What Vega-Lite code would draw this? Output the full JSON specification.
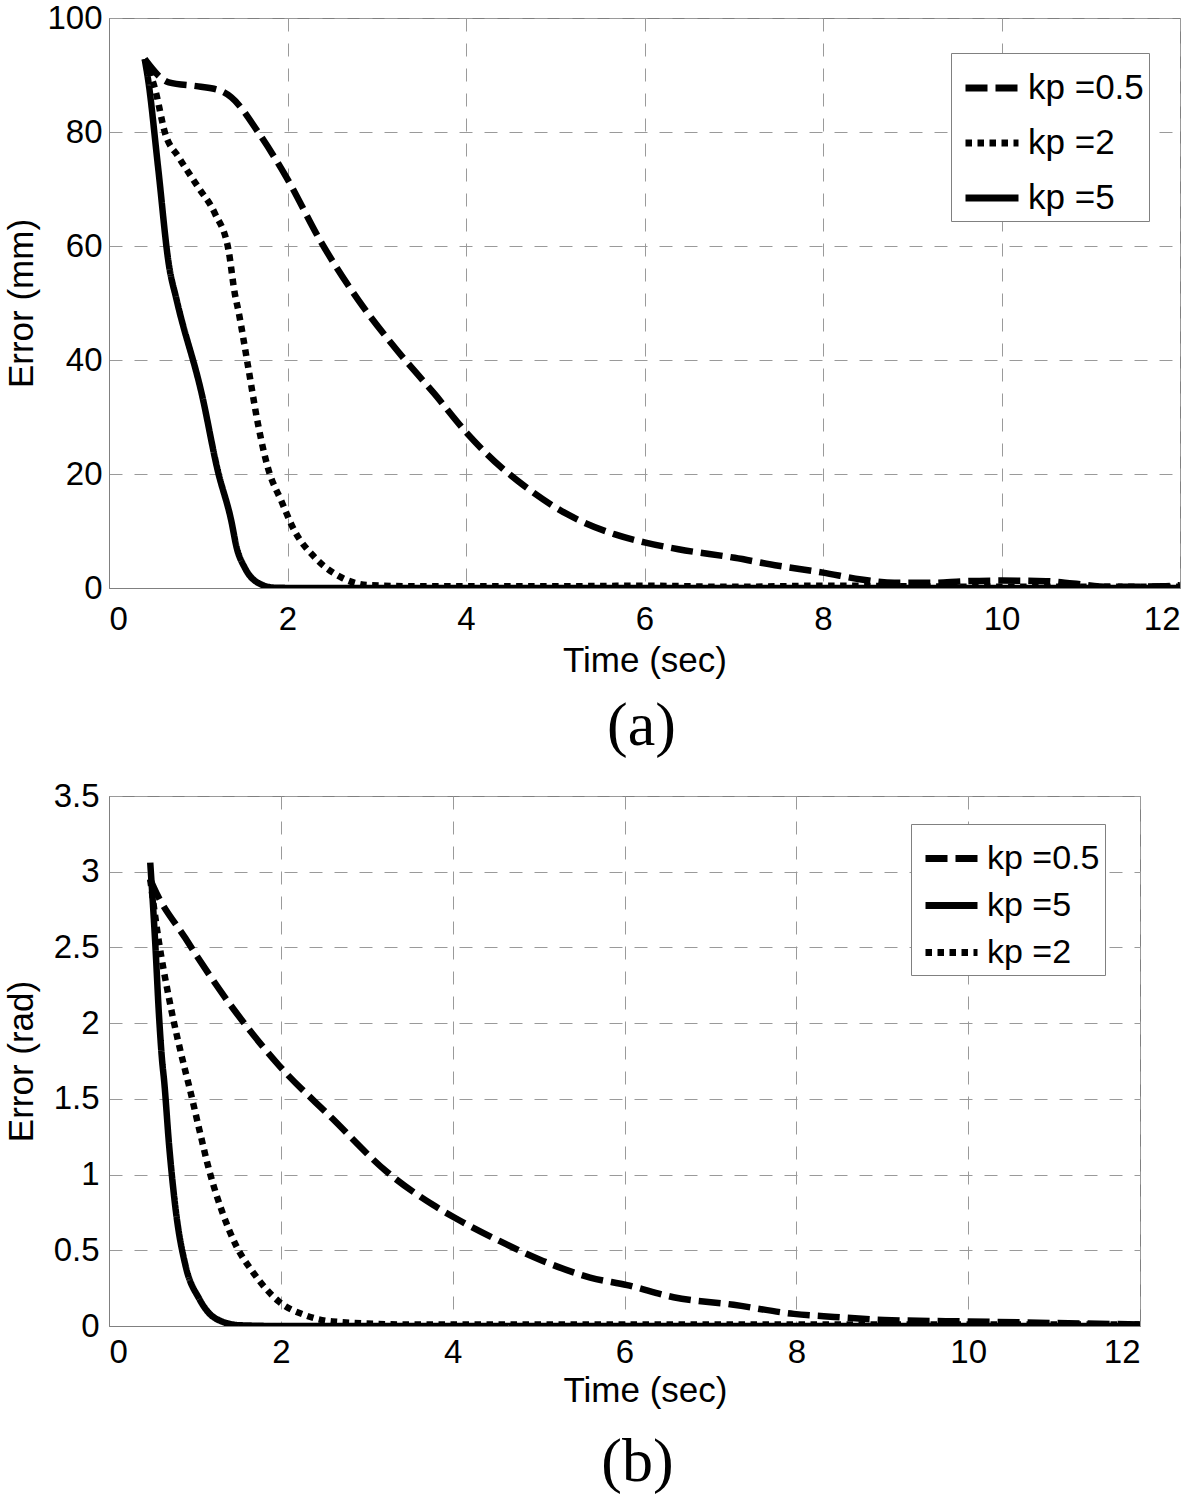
{
  "$schema": "https://vega.github.io/schema/vega-lite/v6.json",
  "background": "white",
  "padding": {"left": 3, "top": 1, "right": 0, "bottom": 0},
  "spacing": 21,
  "datasets": {
    "a": [
      {"t": 0.40, "e": 92.8, "s": "kp =0.5"}, {"t": 0.67, "e": 88.7, "s": "kp =0.5"}, {"t": 1.0, "e": 88.0, "s": "kp =0.5"}, {"t": 1.24, "e": 87.3, "s": "kp =0.5"}, {"t": 1.37, "e": 86.1, "s": "kp =0.5"}, {"t": 1.67, "e": 80.0, "s": "kp =0.5"}, {"t": 1.99, "e": 72.0, "s": "kp =0.5"}, {"t": 2.38, "e": 60.6, "s": "kp =0.5"}, {"t": 2.79, "e": 50.6, "s": "kp =0.5"}, {"t": 3.17, "e": 42.8, "s": "kp =0.5"}, {"t": 3.65, "e": 34.0, "s": "kp =0.5"}, {"t": 4.02, "e": 27.0, "s": "kp =0.5"}, {"t": 4.4, "e": 21.1, "s": "kp =0.5"}, {"t": 4.58, "e": 18.8, "s": "kp =0.5"}, {"t": 5.14, "e": 12.9, "s": "kp =0.5"}, {"t": 5.67, "e": 9.4, "s": "kp =0.5"}, {"t": 6.0, "e": 8.0, "s": "kp =0.5"}, {"t": 6.38, "e": 6.8, "s": "kp =0.5"}, {"t": 7.01, "e": 5.3, "s": "kp =0.5"}, {"t": 7.5, "e": 3.9, "s": "kp =0.5"}, {"t": 8.0, "e": 2.7, "s": "kp =0.5"}, {"t": 8.43, "e": 1.5, "s": "kp =0.5"}, {"t": 8.8, "e": 0.9, "s": "kp =0.5"}, {"t": 9.2, "e": 0.9, "s": "kp =0.5"}, {"t": 9.6, "e": 1.2, "s": "kp =0.5"}, {"t": 10.0, "e": 1.3, "s": "kp =0.5"}, {"t": 10.5, "e": 1.2, "s": "kp =0.5"}, {"t": 10.8, "e": 0.8, "s": "kp =0.5"}, {"t": 11.2, "e": 0.2, "s": "kp =0.5"}, {"t": 11.8, "e": 0.3, "s": "kp =0.5"}, {"t": 12.0, "e": 0.5, "s": "kp =0.5"},
      {"t": 0.40, "e": 92.8, "s": "kp =2"}, {"t": 0.52, "e": 87.3, "s": "kp =2"}, {"t": 0.63, "e": 79.7, "s": "kp =2"}, {"t": 0.78, "e": 75.6, "s": "kp =2"}, {"t": 1.0, "e": 70.3, "s": "kp =2"}, {"t": 1.19, "e": 65.6, "s": "kp =2"}, {"t": 1.34, "e": 59.2, "s": "kp =2"}, {"t": 1.41, "e": 51.6, "s": "kp =2"}, {"t": 1.45, "e": 48.6, "s": "kp =2"}, {"t": 1.56, "e": 38.7, "s": "kp =2"}, {"t": 1.67, "e": 28.7, "s": "kp =2"}, {"t": 1.78, "e": 21.1, "s": "kp =2"}, {"t": 1.93, "e": 15.3, "s": "kp =2"}, {"t": 2.08, "e": 10.0, "s": "kp =2"}, {"t": 2.31, "e": 5.3, "s": "kp =2"}, {"t": 2.61, "e": 1.8, "s": "kp =2"}, {"t": 2.9, "e": 0.5, "s": "kp =2"}, {"t": 3.5, "e": 0.3, "s": "kp =2"}, {"t": 5.0, "e": 0.3, "s": "kp =2"}, {"t": 6.0, "e": 0.4, "s": "kp =2"}, {"t": 7.0, "e": 0.2, "s": "kp =2"}, {"t": 8.0, "e": 0.4, "s": "kp =2"}, {"t": 9.0, "e": 0.3, "s": "kp =2"}, {"t": 10.0, "e": 0.2, "s": "kp =2"}, {"t": 12.0, "e": 0.2, "s": "kp =2"},
      {"t": 0.40, "e": 92.8, "s": "kp =5"}, {"t": 0.44, "e": 89.0, "s": "kp =5"}, {"t": 0.55, "e": 73.8, "s": "kp =5"}, {"t": 0.67, "e": 56.8, "s": "kp =5"}, {"t": 0.76, "e": 50.4, "s": "kp =5"}, {"t": 1.04, "e": 34.0, "s": "kp =5"}, {"t": 1.22, "e": 20.5, "s": "kp =5"}, {"t": 1.37, "e": 11.8, "s": "kp =5"}, {"t": 1.43, "e": 7.1, "s": "kp =5"}, {"t": 1.52, "e": 3.6, "s": "kp =5"}, {"t": 1.67, "e": 0.9, "s": "kp =5"}, {"t": 1.86, "e": 0.05, "s": "kp =5"}, {"t": 2.2, "e": 0.0, "s": "kp =5"}, {"t": 12.0, "e": 0.0, "s": "kp =5"}
    ],
    "b": [
      {"t": 0.48, "e": 2.95, "s": "kp =0.5"}, {"t": 0.51, "e": 2.91, "s": "kp =0.5"}, {"t": 0.89, "e": 2.56, "s": "kp =0.5"}, {"t": 1.44, "e": 2.10, "s": "kp =0.5"}, {"t": 1.98, "e": 1.72, "s": "kp =0.5"}, {"t": 2.6, "e": 1.37, "s": "kp =0.5"}, {"t": 3.23, "e": 1.02, "s": "kp =0.5"}, {"t": 3.77, "e": 0.80, "s": "kp =0.5"}, {"t": 4.04, "e": 0.71, "s": "kp =0.5"}, {"t": 4.55, "e": 0.56, "s": "kp =0.5"}, {"t": 5.05, "e": 0.43, "s": "kp =0.5"}, {"t": 5.6, "e": 0.32, "s": "kp =0.5"}, {"t": 6.03, "e": 0.27, "s": "kp =0.5"}, {"t": 6.57, "e": 0.19, "s": "kp =0.5"}, {"t": 7.27, "e": 0.14, "s": "kp =0.5"}, {"t": 7.97, "e": 0.08, "s": "kp =0.5"}, {"t": 8.44, "e": 0.06, "s": "kp =0.5"}, {"t": 9.02, "e": 0.04, "s": "kp =0.5"}, {"t": 10.0, "e": 0.03, "s": "kp =0.5"}, {"t": 11.0, "e": 0.02, "s": "kp =0.5"}, {"t": 12.0, "e": 0.01, "s": "kp =0.5"},
      {"t": 0.48, "e": 3.06, "s": "kp =5"}, {"t": 0.54, "e": 2.51, "s": "kp =5"}, {"t": 0.58, "e": 2.07, "s": "kp =5"}, {"t": 0.62, "e": 1.74, "s": "kp =5"}, {"t": 0.64, "e": 1.63, "s": "kp =5"}, {"t": 0.70, "e": 1.19, "s": "kp =5"}, {"t": 0.78, "e": 0.75, "s": "kp =5"}, {"t": 0.89, "e": 0.40, "s": "kp =5"}, {"t": 1.05, "e": 0.18, "s": "kp =5"}, {"t": 1.24, "e": 0.05, "s": "kp =5"}, {"t": 1.52, "e": 0.005, "s": "kp =5"}, {"t": 2.0, "e": 0.0, "s": "kp =5"}, {"t": 12.0, "e": 0.0, "s": "kp =5"},
      {"t": 0.48, "e": 2.95, "s": "kp =2"}, {"t": 0.58, "e": 2.54, "s": "kp =2"}, {"t": 0.70, "e": 2.16, "s": "kp =2"}, {"t": 0.89, "e": 1.68, "s": "kp =2"}, {"t": 0.93, "e": 1.59, "s": "kp =2"}, {"t": 1.05, "e": 1.30, "s": "kp =2"}, {"t": 1.17, "e": 1.02, "s": "kp =2"}, {"t": 1.32, "e": 0.75, "s": "kp =2"}, {"t": 1.48, "e": 0.53, "s": "kp =2"}, {"t": 1.67, "e": 0.36, "s": "kp =2"}, {"t": 1.98, "e": 0.16, "s": "kp =2"}, {"t": 2.29, "e": 0.07, "s": "kp =2"}, {"t": 2.6, "e": 0.03, "s": "kp =2"}, {"t": 3.5, "e": 0.01, "s": "kp =2"}, {"t": 12.0, "e": 0.01, "s": "kp =2"}
    ]
  },
  "vconcat": [
    {
      "width": 1071,
      "height": 570,
      "data": {"name": "a"},
      "title": {"text": "(a)", "orient": "bottom", "anchor": "middle", "font": "Liberation Serif", "fontSize": 62, "fontWeight": "normal", "color": "black", "offset": 18, "dx": -3},
      "mark": {"type": "line", "color": "black", "strokeWidth": 6.5, "interpolate": "monotone", "clip": true},
      "encoding": {
        "x": {"field": "t", "type": "quantitative", "title": "Time (sec)", "scale": {"domain": [0, 12], "nice": false}, "axis": {"values": [0, 2, 4, 6, 8, 10, 12], "format": "d", "labelPadding": 15, "titlePadding": 7}},
        "y": {"field": "e", "type": "quantitative", "title": "Error (mm)", "scale": {"domain": [0, 100], "nice": false}, "axis": {"values": [0, 20, 40, 60, 80, 100], "format": "d", "labelPadding": 7, "titlePadding": 7}},
        "strokeDash": {"field": "s", "type": "nominal", "scale": {"domain": ["kp =0.5", "kp =2", "kp =5"], "range": [[22, 8], [6.5, 5.5], [1, 0]]},
          "legend": {"title": null, "orient": "none", "legendX": 842, "legendY": 35, "strokeColor": "#808080", "fillColor": "white", "padding": 5, "rowPadding": 7, "symbolOffset": 6, "symbolType": "stroke", "symbolSize": 2809, "symbolStrokeWidth": 7, "symbolStrokeColor": "black", "labelFontSize": 35, "labelColor": "black", "labelOffset": 6}}
      }
    },
    {
      "width": 1031,
      "height": 530,
      "data": {"name": "b"},
      "title": {"text": "(b)", "orient": "bottom", "anchor": "middle", "font": "Liberation Serif", "fontSize": 62, "fontWeight": "normal", "color": "black", "offset": 24, "dx": 13},
      "mark": {"type": "line", "color": "black", "strokeWidth": 6.5, "interpolate": "monotone", "clip": true},
      "encoding": {
        "x": {"field": "t", "type": "quantitative", "title": "Time (sec)", "scale": {"domain": [0, 12], "nice": false}, "axis": {"values": [0, 2, 4, 6, 8, 10, 12], "format": "d", "labelPadding": 10, "titlePadding": 4, "titleX": 536, "titleAlign": "center"}},
        "y": {"field": "e", "type": "quantitative", "title": "Error (rad)", "scale": {"domain": [0, 3.5], "nice": false}, "axis": {"values": [0, 0.5, 1, 1.5, 2, 2.5, 3, 3.5], "format": ".1~f", "labelPadding": 10, "titlePadding": 14}},
        "strokeDash": {"field": "s", "type": "nominal", "scale": {"domain": ["kp =0.5", "kp =5", "kp =2"], "range": [[22, 8], [1, 0], [6.5, 5.5]]},
          "legend": {"title": null, "orient": "none", "legendX": 802, "legendY": 28, "strokeColor": "#808080", "fillColor": "white", "padding": 5, "rowPadding": 0, "symbolOffset": 6, "symbolType": "stroke", "symbolSize": 2704, "symbolStrokeWidth": 7, "symbolStrokeColor": "black", "labelFontSize": 34, "labelColor": "black", "labelOffset": 6}}
      }
    }
  ],
  "resolve": {"scale": {"strokeDash": "independent"}, "legend": {"strokeDash": "independent"}},
  "config": {
    "font": "Liberation Sans",
    "view": {"stroke": "#808080", "strokeWidth": 1},
    "axis": {"labelFont": "Liberation Sans", "labelFontSize": 33, "labelColor": "black", "titleFont": "Liberation Sans", "titleFontSize": 35, "titleFontWeight": "normal", "titleColor": "black", "domainColor": "#808080", "domainWidth": 1, "ticks": false, "grid": true, "gridColor": "#9a9a9a", "gridDash": [13, 12], "gridWidth": 1, "gridOpacity": 1}
  }
}
